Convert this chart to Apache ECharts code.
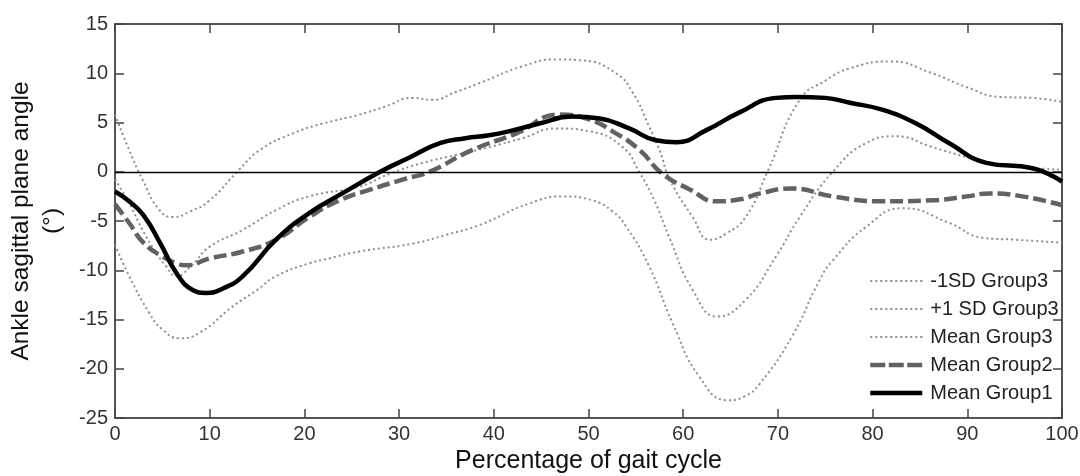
<!DOCTYPE html>
<html>
<head>
<meta charset="utf-8">
<script src="https://cdn.jsdelivr.net/npm/echarts@6/dist/echarts.min.js"></script>
<style>
  html, body { margin: 0; padding: 0; background: #fff; }
  #main { width: 1080px; height: 476px; }
</style>
</head>
<body>
<div id="main"></div>
<script>
// Mean Group1 (solid black)
var g1X = [0, 1.5, 3, 4.8, 6.5, 8.2, 9.6, 11.5, 13.5, 17, 20.5, 24, 28, 31, 34.3, 37, 39.5, 42, 44.8, 48.3, 51.2, 54.3, 57.1, 59.3, 62.4, 65.9, 69.8, 72, 75, 77.6, 81, 84.6, 88.1, 92, 96.9, 100];
var g1Y = [-2.0, -3.0, -4.4, -7.3, -10.3, -12.0, -12.3, -11.8, -10.6, -6.9, -4.2, -2.2, 0.0, 1.4, 2.9, 3.4, 3.7, 4.2, 4.9, 5.6, 5.4, 4.4, 3.2, 3.0, 4.2, 6.0, 7.5, 7.6, 7.5, 7.0, 6.3, 4.9, 2.9, 0.9, 0.35, -1.0];

// Mean Group2 (dashed grey)
var g2X = [0, 1.5, 3, 5, 6.5, 7.5, 10, 13.5, 17, 20.5, 23.7, 27, 30.7, 33.2, 37.7, 42.4, 46.9, 49.8, 52.9, 55.4, 57.8, 60.7, 63.5, 66, 68.1, 71.5, 75.8, 81, 86.3, 90, 92.3, 95.2, 100];
var g2Y = [-3.3, -5.2, -7.2, -8.6, -9.3, -9.5, -8.8, -8.1, -6.9, -4.6, -2.9, -1.8, -0.7, 0.0, 2.2, 3.9, 5.8, 5.4, 3.9, 2.2, -0.2, -1.8, -3.0, -2.8, -2.2, -1.7, -2.5, -3.0, -2.9, -2.5, -2.2, -2.4, -3.4];

// Group3: +1 SD, mean, -1 SD (dotted)
var upX = [0, 1.5, 2.9, 4.7, 6.1, 8, 10, 13.1, 15.3, 18.8, 22, 25.8, 28.5, 31.4, 33.5, 36, 38.5, 43, 46.6, 49.4, 52.9, 54.7, 56.4, 57.5, 58.6, 61, 62.8, 64.5, 66.6, 68.9, 72.3, 75.1, 77.6, 81.8, 86.3, 89.9, 93.4, 96.9, 100];
var upY = [5.8, 2.2, -0.8, -3.9, -4.6, -4.0, -2.9, 0.2, 2.2, 3.9, 4.9, 5.8, 6.6, 7.5, 7.3, 8.1, 9.0, 10.7, 11.4, 11.3, 10.0, 8.0, 4.6, 2.2, -0.8, -4.6, -6.9, -6.3, -4.6, 0.0, 7.3, 9.3, 10.5, 11.2, 10.0, 8.6, 7.6, 7.5, 7.1];

var mnX = [0, 1.5, 2.9, 4.2, 5.4, 6.5, 8, 10, 13.5, 17, 20.5, 25.8, 29, 32.5, 36, 39.5, 43, 46.6, 50.1, 53.6, 55.4, 57, 58.5, 61, 63.6, 66.6, 69.8, 72.3, 75.8, 79.3, 82.5, 86.3, 89.9, 93.4, 96.5, 100];
var mnY = [-0.8, -3.2, -5.9, -8.0, -9.6, -10.6, -9.6, -7.6, -5.9, -3.9, -2.5, -1.5, -0.2, 0.9, 1.7, 2.5, 3.4, 4.4, 4.1, 2.5, -0.1, -3.0, -6.6, -12.0, -14.7, -13.0, -8.6, -4.6, 0.0, 2.9, 3.6, 2.5, 1.5, 0.7, 0.4, 0.2];

var loX = [0, 1.5, 3.6, 5, 6.8, 9, 12.4, 15, 17, 20.5, 22.6, 25.8, 31.4, 35, 38.5, 43.8, 47.3, 50.4, 52.5, 54, 56.4, 58.9, 61.7, 64.7, 66.5, 68.1, 71.5, 74.4, 75.8, 79.3, 83.2, 88.1, 91.6, 95, 100];
var loY = [-7.4, -10.6, -14.3, -16.0, -16.9, -16.3, -13.7, -12.0, -10.6, -9.3, -8.8, -8.1, -7.3, -6.4, -5.4, -3.2, -2.5, -2.9, -4.0, -5.6, -9.6, -15.4, -20.8, -23.2, -22.8, -21.5, -16.7, -11.0, -9.0, -5.6, -3.7, -5.2, -6.7, -6.9, -7.2];

var seriesNames = ['-1SD Group3', '+1 SD Group3', 'Mean Group3', 'Mean Group2', 'Mean Group1'];

function pairs(xs, ys) {
	return xs.map(function (x, i) { return [x, ys[i]]; });
}

var font = "'Liberation Sans', Arial, sans-serif";

var frame = { show: true, onZero: false, lineStyle: { color: '#555', width: 2 } };
var ticks = { show: true, inside: true, length: 9, lineStyle: { color: '#444', width: 1.5 } };

var dotted = { color: '#8e8e8e', width: 2, type: [2, 3] };
var dashed = { color: '#626262', width: 4.5, type: [13, 5] };
var solid = { color: '#000', width: 4.5, type: 'solid' };
var legendStyles = [dotted, dotted, dotted, { color: '#626262', width: 4.5, type: [15, 3.5] }, solid];

var chart = echarts.init(document.getElementById('main'));

chart.setOption({
	animation: false,
	backgroundColor: '#fff',
	grid: { left: 115, right: 18, top: 24, bottom: 58, outerBoundsMode: 'none', containLabel: false },
	legend: {
		orient: 'vertical',
		left: 868,
		top: 267,
		padding: 0,
		itemWidth: 52,
		itemHeight: 14,
		itemGap: 0,
		itemStyle: { opacity: 0 }, // lines only, no symbol
		data: seriesNames.map(function (n, i) {
			return { name: n, lineStyle: legendStyles[i] };
		}),
		textStyle: { fontFamily: font, fontSize: 20, lineHeight: 28, color: '#222', padding: [0, 0, 0, 3] }
	},
	xAxis: [{
		type: 'value', min: 0, max: 100, interval: 10, position: 'bottom',
		axisLine: frame, axisTick: ticks, splitLine: { show: false },
		axisLabel: { fontFamily: font, fontSize: 20, color: '#333', margin: 6 },
		name: 'Percentage of gait cycle', nameLocation: 'middle', nameGap: 30,
		nameTextStyle: { fontFamily: font, fontSize: 25, color: '#111' }
	}, {
		type: 'value', min: 0, max: 100, interval: 10, position: 'top',
		axisLine: frame, axisTick: ticks, splitLine: { show: false },
		axisLabel: { show: false }
	}],
	yAxis: [{
		type: 'value', min: -25, max: 15, interval: 5, position: 'left',
		axisLine: frame, axisTick: ticks, splitLine: { show: false },
		axisLabel: { fontFamily: font, fontSize: 20, color: '#333', margin: 7 },
		name: 'Ankle sagittal plane angle\n(°)', nameLocation: 'middle', nameRotate: 90, nameGap: 47,
		nameTextStyle: { fontFamily: font, fontSize: 24.5, lineHeight: 31, color: '#111' }
	}, {
		type: 'value', min: -25, max: 15, interval: 5, position: 'right',
		axisLine: frame, axisTick: ticks, splitLine: { show: false },
		axisLabel: { show: false }
	}],
	series: [{
		name: '-1SD Group3', type: 'line', smooth: true, symbol: 'none',
		lineStyle: dotted, itemStyle: { color: '#8e8e8e' },
		data: pairs(loX, loY)
	}, {
		name: '+1 SD Group3', type: 'line', smooth: true, symbol: 'none',
		lineStyle: dotted, itemStyle: { color: '#8e8e8e' },
		data: pairs(upX, upY)
	}, {
		name: 'Mean Group3', type: 'line', smooth: true, symbol: 'none',
		lineStyle: dotted, itemStyle: { color: '#8e8e8e' },
		data: pairs(mnX, mnY)
	}, {
		name: 'Mean Group2', type: 'line', smooth: true, symbol: 'none',
		lineStyle: dashed, itemStyle: { color: '#626262' },
		data: pairs(g2X, g2Y)
	}, {
		name: 'Mean Group1', type: 'line', smooth: true, symbol: 'none',
		lineStyle: solid, itemStyle: { color: '#000' },
		// zero reference line
		markLine: {
			silent: true, symbol: 'none', label: { show: false },
			lineStyle: { color: '#000', width: 1.3, type: 'solid' },
			data: [{ yAxis: 0 }]
		},
		data: pairs(g1X, g1Y)
	}]
});
</script>
</body>
</html>
